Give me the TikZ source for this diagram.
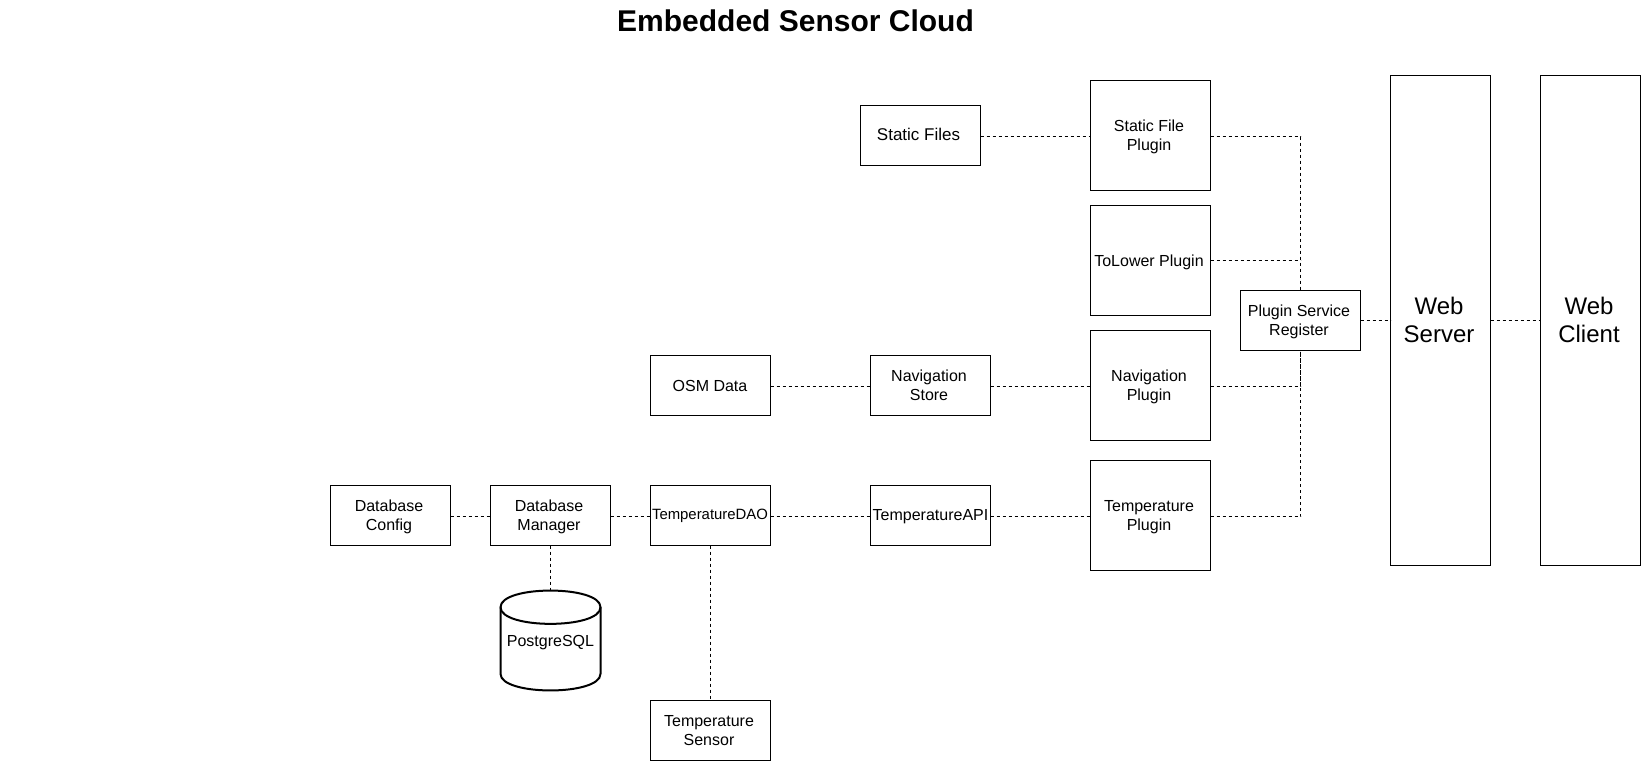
\documentclass[tikz,border=0pt]{standalone}
\usepackage{fontspec}
\setmainfont{Liberation Sans}
\begin{document}
\begin{tikzpicture}[x=1pt,y=-1pt,line width=1pt,
  box/.style={draw=black,fill=white,inner sep=0pt,outer sep=0pt},
  every label/.style={inner sep=0pt,outer sep=0pt,align=center},
  lab/.style n args={3}{label={[xshift=#1pt,yshift=#2pt,font=\fontsize{16}{19}\selectfont]center:{#3}}},
  labf/.style n args={5}{label={[xshift=#1pt,yshift=#2pt,font=\fontsize{#3}{#4}\selectfont]center:{#5}}},
  wide/.style={box,minimum width=120pt,minimum height=60pt},
  plugin/.style={box,minimum width=120pt,minimum height=110pt},
  tall/.style={box,minimum width=100pt,minimum height=490pt},
  link/.style={draw=black,line width=1pt,dash pattern=on 3pt off 3pt},
  titletext/.style={inner sep=0pt,font=\fontsize{30}{36}\selectfont\bfseries},
  dbshape/.style={draw=black,line width=2pt},
  dbtext/.style={inner sep=0pt,outer sep=0pt,minimum width=100pt,minimum height=100pt}]
\useasboundingbox (0,0) rectangle (1641,761);
\node[titletext] (title) at (795.5,21) {Embedded Sensor Cloud};
% boxes
\node[wide,labf={-2}{1}{17}{20}{Static Files}] (files) at (920.5,135.5) {};
\node[plugin,lab={-1.5}{-1}{Static File\\Plugin}] (sfp) at (1150.5,135.5) {};
\node[plugin,lab={-1.5}{-1.5}{ToLower Plugin}] (low) at (1150.5,260.5) {};
\node[plugin,lab={-1.5}{-1}{Navigation\\Plugin}] (nav) at (1150.5,385.5) {};
\node[plugin,lab={-1.5}{-2}{Temperature\\Plugin}] (tmp) at (1150.5,515.5) {};
\node[wide,lab={-1.5}{-1}{Plugin Service\\Register}] (psr) at (1300.5,320.5) {};
\node[tall,labf={-1.5}{1}{24}{28}{Web\\Server}] (srv) at (1440.5,320.5) {};
\node[tall,labf={-1.5}{1}{24}{28}{Web\\Client}] (cli) at (1590.5,320.5) {};
\node[wide,lab={-0.5}{0}{OSM Data}] (osm) at (710.5,385.5) {};
\node[wide,lab={-1.5}{0}{Navigation\\Store}] (store) at (930.5,385.5) {};
\node[wide,lab={-1.5}{-1}{Database\\Config}] (cfg) at (390.5,515.5) {};
\node[wide,lab={-1.5}{-1}{Database\\Manager}] (mgr) at (550.5,515.5) {};
\node[wide,labf={-0.5}{-0.5}{14.9}{18}{TemperatureDAO}] (dao) at (710.5,515.5) {};
\node[wide,lab={0}{-1}{TemperatureAPI}] (api) at (930.5,515.5) {};
\node[wide,lab={-1.5}{0}{Temperature\\Sensor}] (sens) at (710.5,730.5) {};
% cylinder
\draw[dbshape,fill=white] (500.5,607.2)
  .. controls (500.5,585) and (600.5,585) .. (600.5,607.2)
  -- (600.5,673.8)
  .. controls (600.5,696) and (500.5,696) .. (500.5,673.8) -- cycle;
\draw[dbshape] (500.5,607.2) .. controls (500.5,629.4) and (600.5,629.4) .. (600.5,607.2);
\node[dbtext,lab={0}{-2.5}{PostgreSQL}] (pg) at (550.5,640.5) {};
% connectors
\draw[link] ([yshift=-1pt]files.east) -- ([yshift=-1pt]sfp.west);
\draw[link] ([yshift=-1pt]sfp.east) -| (psr.north);
\draw[link] (low.east) -- (low.east -| psr.north);
\draw[link] ([yshift=-1pt]nav.east) -| (psr.south);
\draw[link] ([yshift=-1pt]tmp.east) -| (psr.south);
\draw[link] (psr.east) -- (srv.west);
\draw[link] (srv.east) -- (cli.west);
\draw[link] ([yshift=-1pt]osm.east) -- ([yshift=-1pt]store.west);
\draw[link] ([yshift=-1pt]store.east) -- ([yshift=-1pt]nav.west);
\draw[link] ([yshift=-1pt]cfg.east) -- ([yshift=-1pt]mgr.west);
\draw[link] ([yshift=-1pt]mgr.east) -- ([yshift=-1pt]dao.west);
\draw[link] ([yshift=-1pt]dao.east) -- ([yshift=-1pt]api.west);
\draw[link] ([yshift=-1pt]api.east) -- ([yshift=-1pt]tmp.west);
\draw[link] (mgr.south) -- (pg.north);
\draw[link] (dao.south) -- (sens.north);
\end{tikzpicture}
\end{document}
